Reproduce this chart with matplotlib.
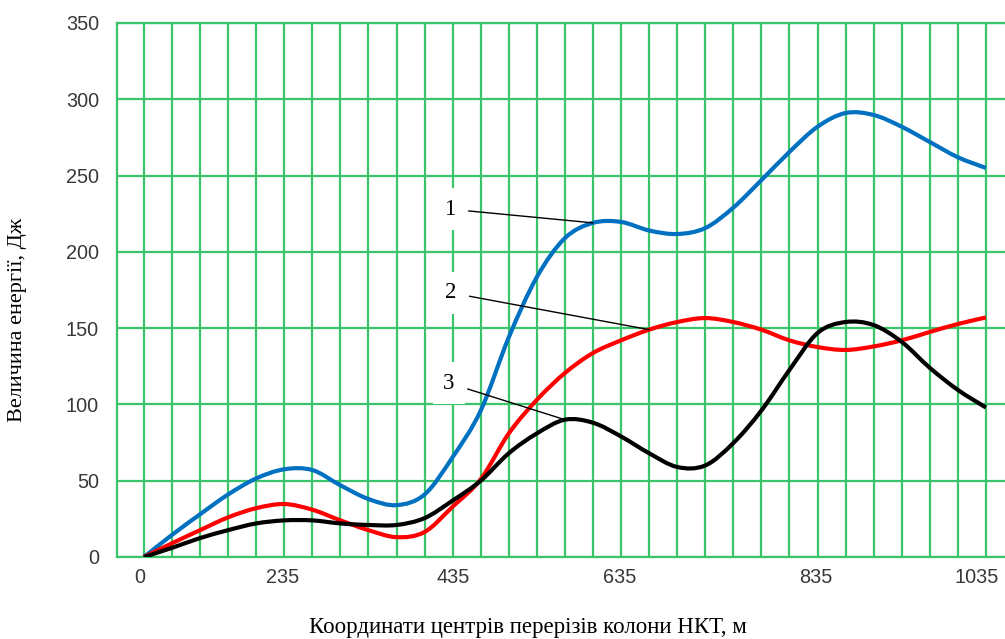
import numpy as np
import matplotlib
matplotlib.use("Agg")
import matplotlib.pyplot as plt
from matplotlib.path import Path
from matplotlib.patches import PathPatch

# номери перерізів (по вертикальних лініях сітки)
sections = np.arange(31)

# крива 1 (синя)
energy_1 = [0, 14.5, 28, 41, 51.5, 57.5, 57, 47, 38, 34, 41, 65.5, 96, 144, 183.5,
            209, 219, 219.6, 214, 211.7, 215.6, 229, 247, 265.5, 282, 291, 289.7, 282,
            272, 262, 255]
# крива 2 (червона)
energy_2 = [0, 9, 17.6, 26, 32, 34.7, 31, 24, 17.6, 13, 16.4, 33, 51, 81, 103,
            120.6, 133.7, 142, 149, 154, 156.6, 154, 149, 142, 137.6, 135.7, 138, 142,
            147.5, 152.7, 157]
# крива 3 (чорна)
energy_3 = [0, 6, 12.4, 17.6, 22, 24, 24, 22, 21, 21, 25.5, 37, 50, 68, 81,
            90, 88, 79, 68, 59, 60, 74.7, 96, 122.6, 146.8, 154, 152, 141,
            124, 109.5, 98]

tick_labels = ["0", "235", "435", "635", "835", "1035"]
tick_pos = [-0.16, 4.95, 11.01, 16.96, 23.94, 29.68]

green = "#3CC46A"


def smooth_line(ax, x, y, color):
    # згладжена лінія як в Excel (криві Безьє через точки)
    p = np.column_stack([x, y]).astype(float)
    ext = np.vstack([p[0], p, p[-1]])
    verts = [p[0]]
    codes = [Path.MOVETO]
    for i in range(len(p) - 1):
        c1 = ext[i + 1] + (ext[i + 2] - ext[i]) / 6
        c2 = ext[i + 2] - (ext[i + 3] - ext[i + 1]) / 6
        verts += [c1, c2, p[i + 1]]
        codes += [Path.CURVE4] * 3
    ax.add_patch(PathPatch(Path(verts, codes), fill=False, ec=color, lw=3,
                           capstyle="butt", zorder=3))


fig = plt.figure(figsize=(10.05, 6.39), dpi=100)
ax = fig.add_axes([117 / 1005, 1 - 557 / 639, 1 - 117 / 1005, (557 - 23) / 639])

smooth_line(ax, sections, energy_1, "#0070C0")
smooth_line(ax, sections, energy_2, "#FF0000")
smooth_line(ax, sections, energy_3, "#000000")

ax.set_xlim(-0.96, 30.68)
ax.set_ylim(0, 350)
ax.set_yticks(np.arange(0, 351, 50))
ax.set_xticks(tick_pos)
ax.set_xticklabels(tick_labels)
ax.set_xticks(np.arange(0, 31), minor=True)

ax.grid(False)
ax.grid(axis="y", which="major", color=green, lw=1.6)
ax.grid(axis="x", which="minor", color=green, lw=1.6)
ax.set_axisbelow(True)

for s in ["left", "bottom", "top"]:
    ax.spines[s].set_color(green)
    ax.spines[s].set_linewidth(1.6)
ax.spines["right"].set_visible(False)

ax.tick_params(which="both", length=0)
ax.tick_params(axis="y", pad=13)
ax.tick_params(axis="x", pad=8)
for lab in ax.get_xticklabels() + ax.get_yticklabels():
    lab.set_fontfamily("Liberation Sans")
    lab.set_fontsize(14.3)
    lab.set_color("#383838")

# підписи кривих
curves = [energy_1, energy_2, energy_3]
label_xy = [(10.9, 228), (10.93, 173.2), (10.87, 114)]
ends = [16, 18, 15]
for i in range(3):
    ax.annotate(str(i + 1), xy=(sections[ends[i]], curves[i][ends[i]]),
                xytext=label_xy[i], ha="center", va="center",
                fontfamily="Liberation Serif", fontsize=16.5, zorder=5,
                bbox=dict(boxstyle="square,pad=0.45", fc="white", ec="none"),
                arrowprops=dict(arrowstyle="-", color="black", lw=1.0,
                                shrinkA=2, shrinkB=0))

fig.text(18 / 1005, 1 - 320 / 639, "Величина енергії, Дж", rotation=90,
         ha="center", va="center", fontfamily="Liberation Serif", fontsize=16)
fig.text(528 / 1005, 1 - 628 / 639, "Координати центрів перерізів колони НКТ, м",
         ha="center", va="center", fontfamily="Liberation Serif", fontsize=16.5)

fig.savefig("out.png", dpi=100)
